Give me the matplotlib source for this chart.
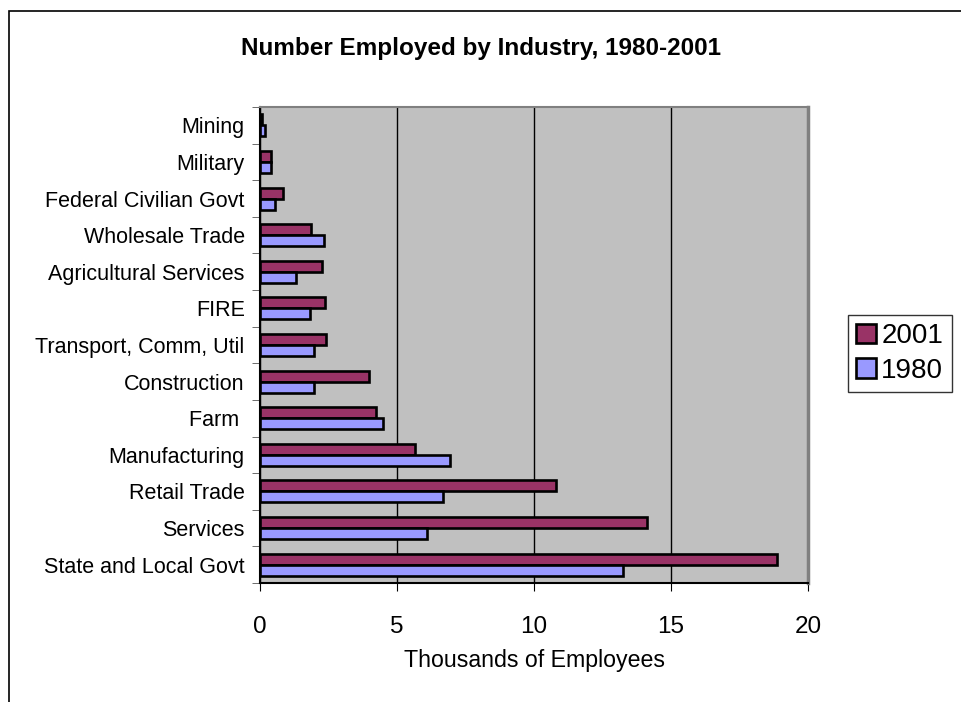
import matplotlib.pyplot as plt
import numpy as np
from matplotlib.patches import Rectangle

plt.rcParams['font.family'] = ['Liberation Sans', 'DejaVu Sans']

# Data (top to bottom as displayed)
industries = ['Mining', 'Military', 'Federal Civilian Govt', 'Wholesale Trade',
              'Agricultural Services', 'FIRE', 'Transport, Comm, Util',
              'Construction', 'Farm ', 'Manufacturing', 'Retail Trade',
              'Services', 'State and Local Govt']
emp_2001 = [0.07, 0.4, 0.84, 1.86, 2.26, 2.37, 2.41, 3.96, 4.22, 5.65, 10.82, 14.14, 18.88]
emp_1980 = [0.2, 0.4, 0.54, 2.35, 1.31, 1.84, 1.96, 1.97, 4.49, 6.92, 6.68, 6.11, 13.23]
xticks = [0, 5, 10, 15, 20]

fig = plt.figure(figsize=(9.62, 7.02), dpi=100)
ax = fig.add_axes([260 / 962, 1 - 583 / 702, 548 / 962, 476 / 702])

# chart border (cut off at the right and bottom)
fig.patches.append(Rectangle((9 / 962, -0.1), 1.2, 1 - 11 / 702 + 0.1,
                             transform=fig.transFigure, fill=False,
                             edgecolor='black', linewidth=1.2))

y = np.arange(len(industries))
h = 0.3
ax.barh(y - h / 2, emp_2001, height=h, color='#993366', edgecolor='black',
        linewidth=1.9, label='2001', zorder=3)
ax.barh(y + h / 2, emp_1980, height=h, color='#9999FF', edgecolor='black',
        linewidth=1.9, label='1980', zorder=3)

ax.set_facecolor('#C0C0C0')
ax.set_xlim(0, 20)
ax.set_ylim(len(industries) - 0.5, -0.5)
ax.set_xticks(xticks)
ax.set_xticklabels([str(t) for t in xticks], fontsize=17.5)
ax.set_yticks(y)
ax.set_yticklabels(industries, fontsize=15.5)
ax.set_yticks(np.arange(len(industries) + 1) - 0.5, minor=True)
ax.tick_params(axis='y', which='major', length=0, pad=11)
ax.tick_params(axis='y', which='minor', length=6, color='#555555')
ax.tick_params(axis='x', length=6, pad=18)
ax.grid(axis='x', color='black', linewidth=1, zorder=1)

ax.spines['left'].set_color('black')
ax.spines['bottom'].set_color('black')
ax.spines['top'].set_color('#808080')
ax.spines['right'].set_color('#808080')
for s in ax.spines.values():
    s.set_linewidth(1.5)
ax.spines['right'].set_linewidth(2.5)

ax.set_xlabel('Thousands of Employees', fontsize=16.7, labelpad=8)
fig.text(0.5, 1 - 48 / 702, 'Number Employed by Industry, 1980-2001',
         fontsize=17.5, fontweight='bold', ha='center', va='center')

leg = fig.legend(loc='lower left', bbox_to_anchor=(848 / 962, 1 - 392 / 702),
                 fontsize=20, frameon=True, fancybox=False, edgecolor='black',
                 handlelength=0.7, handleheight=0.7, handletextpad=0.2,
                 borderpad=0.3, labelspacing=0.3, borderaxespad=0)
leg.get_frame().set_linewidth(1)

fig.savefig('out.png', dpi=100)
plt.close(fig)
